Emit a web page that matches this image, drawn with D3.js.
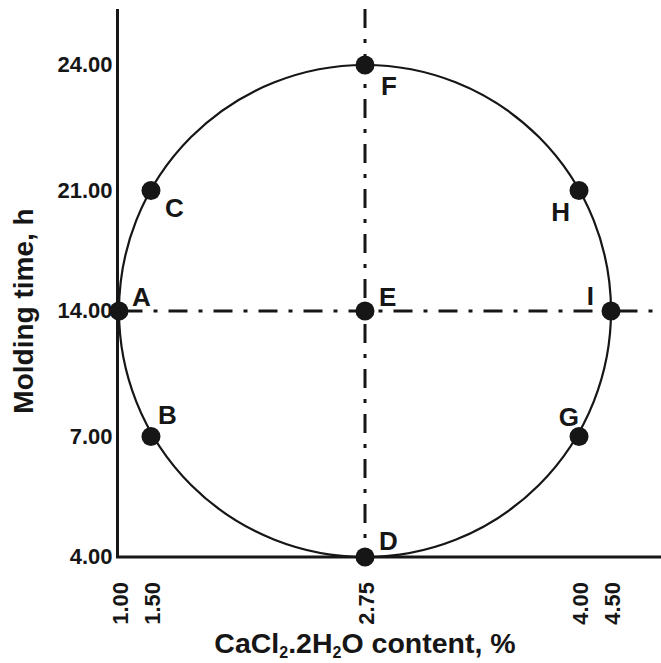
<!DOCTYPE html>
<html>
<head>
<meta charset="utf-8">
<script src="https://cdn.jsdelivr.net/npm/d3@7"></script>
<style>
  body { margin: 0; background: #fff; }
  svg { display: block; font-family: "Liberation Sans", Arial, sans-serif; font-weight: bold; }
</style>
</head>
<body>
<svg id="chart" width="661" height="663"></svg>
<script>
// tick values and where they sit on the design circle (coded units)
const xTicks = [1.00, 1.50, 2.75, 4.00, 4.50];
const xCoded = [-1, -0.87, 0, 0.87, 1];
const yTicks = [4.00, 7.00, 14.00, 21.00, 24.00];
const yCoded = [-1, -0.51, 0, 0.49, 1];

// experimental runs
const runs = ["A", "B", "C", "D", "E", "F", "G", "H", "I"];
const runX = [1.00, 1.50, 1.50, 2.75, 2.75, 2.75, 4.00, 4.00, 4.50];
const runY = [14.00, 7.00, 21.00, 4.00, 14.00, 24.00, 7.00, 21.00, 14.00];

const W = 661, H = 663;
const cx = 365, cy = 311, R = 246;
const ink = "#161616";

// label placement next to each dot
const labelPos = {
  A: [13, -5, "start"], B: [7, -12, "start"], C: [14, 27, "start"],
  D: [14, -7, "start"], E: [14, -5, "start"], F: [16, 30, "start"],
  G: [0, -10, "end"], H: [-9, 31, "end"], I: [-17, -6, "end"]
};

const x = d3.scaleLinear().domain(xTicks).range(xCoded.map(c => cx + c * R));
const y = d3.scaleLinear().domain(yTicks).range(yCoded.map(c => cy - c * R));

const svg = d3.select("#chart");

const axisLeft = x(1.00) - 1.5, axisBottom = y(4.00), axisTop = 9;

// circle
svg.append("circle")
  .attr("cx", x(2.75)).attr("cy", y(14.00))
  .attr("r", x(4.50) - x(2.75))
  .attr("fill", "none").attr("stroke", ink).attr("stroke-width", 2.2);

// dash-dot centre lines
svg.append("line")
  .attr("x1", x(2.75)).attr("x2", x(2.75)).attr("y1", axisTop).attr("y2", axisBottom)
  .attr("stroke", ink).attr("stroke-width", 3).attr("stroke-dasharray", "19,11,4,11");
svg.append("line")
  .attr("x1", axisLeft).attr("x2", W).attr("y1", y(14.00)).attr("y2", y(14.00))
  .attr("stroke", ink).attr("stroke-width", 3).attr("stroke-dasharray", "19,11,4,11")
  .attr("stroke-dashoffset", -6);

// axes
svg.append("path")
  .attr("d", `M${axisLeft},${axisTop}V${axisBottom}H${W}`)
  .attr("fill", "none").attr("stroke", ink).attr("stroke-width", 3);

// y tick labels
svg.selectAll(".ytick")
  .data(yTicks)
  .enter()
  .append("text")
  .attr("class", "ytick")
  .attr("x", axisLeft - 5)
  .attr("y", d => y(d))
  .attr("dy", "0.33em")
  .attr("text-anchor", "end")
  .attr("font-size", 22)
  .attr("fill", ink)
  .text(d => d.toFixed(2));

// x tick labels, rotated
svg.selectAll(".xtick")
  .data(xTicks)
  .enter()
  .append("text")
  .attr("class", "xtick")
  .attr("transform", d => `translate(${x(d) + 1},${axisBottom + 25}) rotate(-90)`)
  .attr("dy", "0.36em")
  .attr("text-anchor", "end")
  .attr("font-size", 22)
  .attr("fill", ink)
  .text(d => d.toFixed(2));

// run points
svg.selectAll(".run")
  .data(runs)
  .enter()
  .append("circle")
  .attr("class", "run")
  .attr("cx", (d, i) => x(runX[i]))
  .attr("cy", (d, i) => y(runY[i]))
  .attr("r", 9.5)
  .attr("fill", ink);

svg.selectAll(".runlabel")
  .data(runs)
  .enter()
  .append("text")
  .attr("class", "runlabel")
  .attr("x", (d, i) => x(runX[i]) + labelPos[d][0])
  .attr("y", (d, i) => y(runY[i]) + labelPos[d][1])
  .attr("text-anchor", d => labelPos[d][2])
  .attr("font-size", 26)
  .attr("fill", ink)
  .text(d => d);

// axis titles
svg.append("text")
  .attr("transform", `translate(33,${cy}) rotate(-90)`)
  .attr("text-anchor", "middle")
  .attr("font-size", 28)
  .attr("fill", ink)
  .text("Molding time, h");

const xt = svg.append("text")
  .attr("x", cx).attr("y", 653)
  .attr("text-anchor", "middle")
  .attr("font-size", 28.5)
  .attr("fill", ink);
xt.append("tspan").text("CaCl");
xt.append("tspan").attr("font-size", 16).attr("dy", 5).text("2");
xt.append("tspan").attr("dy", -5).text(".2H");
xt.append("tspan").attr("font-size", 16).attr("dy", 5).text("2");
xt.append("tspan").attr("dy", -5).text("O content, %");
</script>
</body>
</html>
